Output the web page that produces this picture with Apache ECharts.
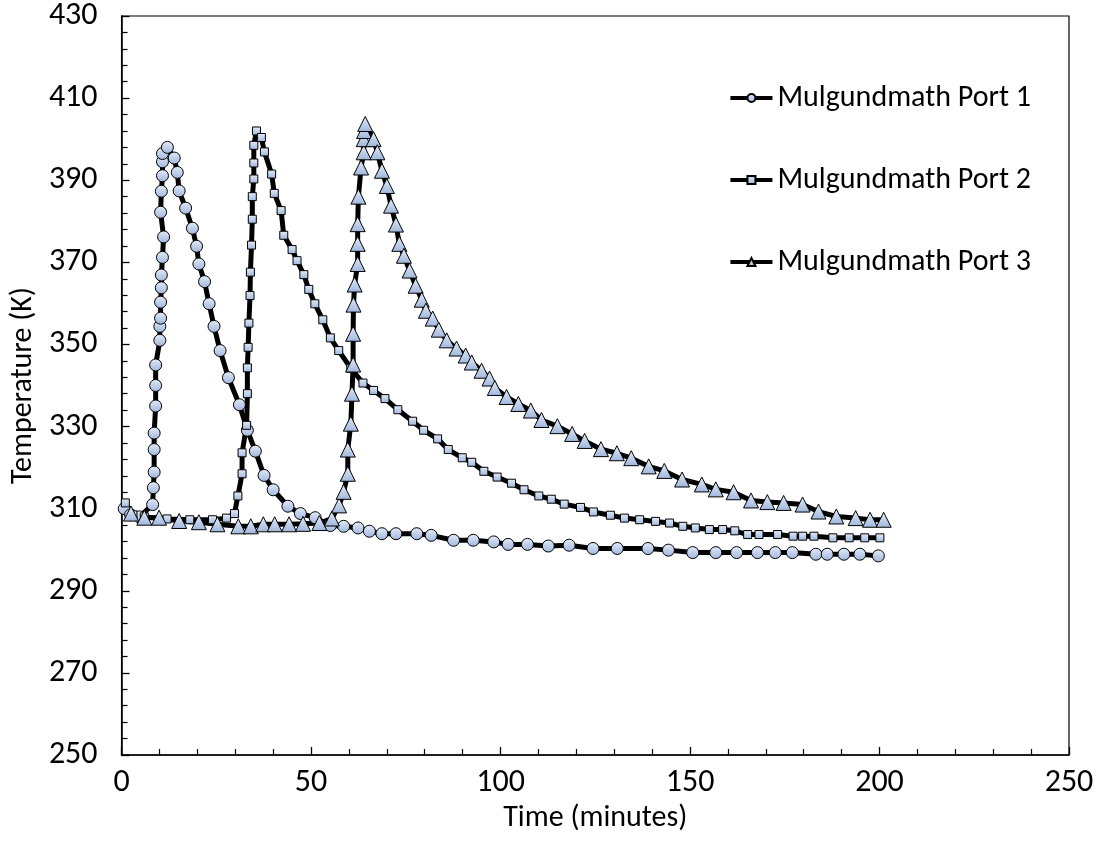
<!DOCTYPE html>
<html>
<head>
<meta charset="utf-8">
<script src="https://cdn.jsdelivr.net/npm/echarts@6/dist/echarts.min.js"></script>
<style>
  html, body { margin: 0; padding: 0; background: #fff; }
  #chart { width: 1103px; height: 855px; }
</style>
</head>
<body>
<div id="chart"></div>
<script>
// Temperature history at three ports (time in minutes, temperature in K)
const seriesNames = ['Mulgundmath Port 1', 'Mulgundmath Port 2', 'Mulgundmath Port 3'];

const port1Time = [0.7, 2.4, 4.7, 8.2, 8.4, 8.6, 8.6, 8.6, 9.0, 9.0, 9.0, 10.1, 10.1, 10.3, 10.3, 10.5, 10.5, 10.8, 11.1, 10.3, 10.5, 10.8, 10.8, 10.8, 12.1, 13.9, 14.7, 15.2, 16.9, 18.7, 19.8, 20.4, 21.9, 23.1, 24.4, 26.0, 28.2, 31.1, 33.2, 35.3, 37.6, 40.0, 43.9, 47.2, 51.1, 55.1, 58.6, 62.4, 65.4, 68.7, 72.4, 77.9, 81.7, 87.6, 92.8, 98.2, 102.0, 107.1, 112.6, 118.1, 124.4, 130.8, 138.9, 144.3, 150.7, 156.8, 162.3, 167.8, 172.5, 177.0, 183.2, 186.2, 190.6, 194.8, 199.7];
const port1Temp = [310.0, 308.5, 308.0, 311.0, 315.1, 318.9, 324.4, 328.4, 335.0, 340.0, 345.0, 351.0, 354.4, 356.4, 360.3, 363.8, 366.9, 371.2, 376.2, 382.2, 387.3, 391.1, 394.5, 396.5, 398.0, 395.4, 391.9, 387.4, 383.2, 378.3, 373.9, 369.6, 365.3, 359.9, 354.4, 348.5, 341.9, 335.3, 329.1, 324.0, 318.1, 314.6, 310.6, 308.8, 307.8, 305.9, 305.7, 305.3, 304.5, 303.9, 303.9, 303.9, 303.5, 302.3, 302.3, 301.9, 301.3, 301.3, 300.9, 301.1, 300.3, 300.3, 300.3, 299.9, 299.3, 299.3, 299.3, 299.3, 299.3, 299.3, 298.9, 298.9, 298.9, 298.9, 298.5];

const port2Time = [1.0, 3.0, 6.0, 12.0, 18.0, 24.0, 27.7, 29.8, 30.7, 31.8, 31.8, 33.0, 33.2, 33.2, 33.4, 33.6, 33.9, 34.0, 34.3, 34.5, 34.5, 34.9, 34.9, 34.9, 35.6, 36.9, 37.7, 39.6, 40.3, 42.1, 42.8, 45.0, 46.3, 48.1, 49.4, 51.0, 53.1, 55.1, 57.3, 60.5, 63.7, 66.5, 69.5, 72.9, 76.8, 79.7, 83.4, 86.2, 89.9, 92.4, 95.6, 99.1, 102.9, 106.2, 110.1, 113.4, 116.8, 121.1, 124.5, 129.0, 132.7, 136.7, 140.9, 144.6, 148.1, 151.4, 155.1, 158.6, 161.8, 165.2, 168.2, 173.1, 177.2, 179.7, 182.7, 187.7, 192.0, 196.1, 200.1];
const port2Temp = [311.4, 308.5, 308.0, 307.5, 307.3, 307.3, 307.7, 308.8, 313.1, 318.5, 323.6, 330.3, 338.0, 344.3, 349.3, 355.2, 361.9, 367.6, 374.2, 380.5, 386.0, 390.3, 394.2, 398.5, 402.0, 400.4, 396.9, 391.5, 386.8, 382.6, 376.6, 373.1, 370.4, 367.0, 363.4, 359.9, 356.0, 351.6, 348.5, 344.2, 340.6, 338.8, 336.8, 334.1, 331.3, 329.1, 327.0, 324.4, 322.4, 321.3, 319.1, 317.7, 316.2, 314.6, 313.1, 312.3, 311.1, 310.3, 309.2, 308.4, 307.7, 307.3, 306.9, 306.5, 305.7, 305.3, 304.9, 304.9, 304.6, 303.7, 303.7, 303.7, 303.3, 303.3, 303.3, 302.9, 302.9, 302.9, 302.9];

const port3Time = [2.5, 6.0, 9.9, 15.2, 20.4, 25.3, 30.8, 34.1, 37.4, 40.4, 44.2, 47.9, 52.2, 55.5, 57.4, 58.6, 59.7, 59.7, 60.5, 60.8, 61.1, 61.1, 61.2, 61.5, 62.3, 62.3, 62.3, 62.5, 63.2, 63.9, 63.9, 64.0, 64.3, 66.5, 67.5, 68.7, 70.0, 71.1, 72.4, 73.3, 74.5, 76.0, 77.6, 79.2, 80.3, 82.1, 83.7, 85.8, 88.4, 90.8, 92.4, 95.0, 97.1, 98.5, 101.6, 104.7, 108.0, 110.8, 115.0, 118.9, 122.2, 126.5, 130.7, 134.5, 139.1, 143.2, 147.9, 153.1, 156.8, 161.5, 166.1, 170.4, 174.7, 179.7, 183.9, 188.6, 193.7, 197.5, 201.1];
const port3Temp = [308.8, 307.8, 307.8, 307.0, 306.7, 306.2, 305.7, 305.7, 306.2, 306.2, 306.2, 306.3, 306.5, 307.6, 310.8, 314.1, 318.5, 324.4, 330.7, 338.0, 345.1, 352.6, 359.7, 364.6, 369.6, 374.5, 379.3, 386.0, 393.1, 396.8, 400.0, 402.0, 403.7, 400.0, 396.8, 392.3, 388.6, 383.8, 379.2, 374.5, 371.6, 368.0, 364.3, 360.9, 358.2, 356.3, 353.6, 351.0, 349.0, 347.3, 345.6, 343.6, 341.7, 339.4, 337.2, 335.5, 333.9, 331.6, 330.1, 328.2, 326.5, 324.5, 323.5, 322.3, 320.3, 319.2, 317.1, 315.9, 314.7, 314.0, 312.0, 311.6, 311.4, 311.0, 309.3, 308.1, 307.7, 307.3, 307.3];

const xTicks = { min: 0, max: 250, interval: 50 };
const yTicks = { min: 250, max: 430, interval: 20 };

const pairs = (xs, ys) => xs.map((x, i) => [x, ys[i]]);

const markerFill = new echarts.graphic.LinearGradient(0, 0, 0, 1, [
  { offset: 0, color: '#e4ecf8' },
  { offset: 1, color: '#9fb6dc' }
]);

const baseFont = 'Carlito, Calibri, Lato, "Open Sans", sans-serif';
const tickFont = 32;
const titleFont = 30;

function lineSeries(name, data, symbol, size) {
  return {
    name: name,
    type: 'line',
    data: data,
    symbol: symbol,
    symbolSize: size,
    showAllSymbol: true,
    lineStyle: { color: '#000', width: 5 },
    itemStyle: { color: markerFill, borderColor: '#000', borderWidth: 1 },
    emphasis: { disabled: true },
    animation: false
  };
}

const chart = echarts.init(document.getElementById('chart'), null, { renderer: 'canvas' });

chart.setOption({
  backgroundColor: '#fff',
  textStyle: { fontFamily: baseFont },
  grid: {
    left: 119, top: 15, right: 34, bottom: 100,
    show: true, borderColor: '#000', borderWidth: 1.2, backgroundColor: 'transparent'
  },
  legend: {
    orient: 'vertical',
    right: 67,
    top: 78,
    itemGap: 52,
    itemWidth: 42,
    itemHeight: 10,
    lineStyle: { color: '#000', width: 4 },
    textStyle: { fontSize: titleFont, color: '#000', fontFamily: baseFont },
    data: seriesNames
  },
  xAxis: {
    type: 'value',
    min: xTicks.min, max: xTicks.max, interval: xTicks.interval,
    name: 'Time (minutes)',
    nameLocation: 'middle',
    nameGap: 46,
    nameTextStyle: { fontSize: titleFont, color: '#000', fontFamily: baseFont },
    axisLine: { lineStyle: { color: '#000', width: 1.5 } },
    axisTick: { inside: true, length: 8, lineStyle: { color: '#000', width: 1.3 } },
    minorTick: { show: true, splitNumber: 5, length: 6, lineStyle: { color: '#000', width: 1.2 } },
    axisLabel: { fontSize: tickFont, color: '#000', margin: 12, fontFamily: baseFont },
    splitLine: { show: false }
  },
  yAxis: {
    type: 'value',
    min: yTicks.min, max: yTicks.max, interval: yTicks.interval,
    name: 'Temperature (K)',
    nameLocation: 'middle',
    nameGap: 82,
    nameTextStyle: { fontSize: titleFont, color: '#000', fontFamily: baseFont },
    axisLine: { show: true, lineStyle: { color: '#000', width: 1.5 } },
    axisTick: { inside: true, length: 8, lineStyle: { color: '#000', width: 1.3 } },
    minorTick: { show: true, splitNumber: 5, length: 6, lineStyle: { color: '#000', width: 1.2 } },
    axisLabel: { fontSize: tickFont, color: '#000', margin: 24, fontFamily: baseFont },
    splitLine: { show: false }
  },
  series: [
    lineSeries(seriesNames[0], pairs(port1Time, port1Temp), 'circle', 12),
    lineSeries(seriesNames[1], pairs(port2Time, port2Temp), 'rect', 8),
    lineSeries(seriesNames[2], pairs(port3Time, port3Temp), 'triangle', 15)
  ]
});
</script>
</body>
</html>
